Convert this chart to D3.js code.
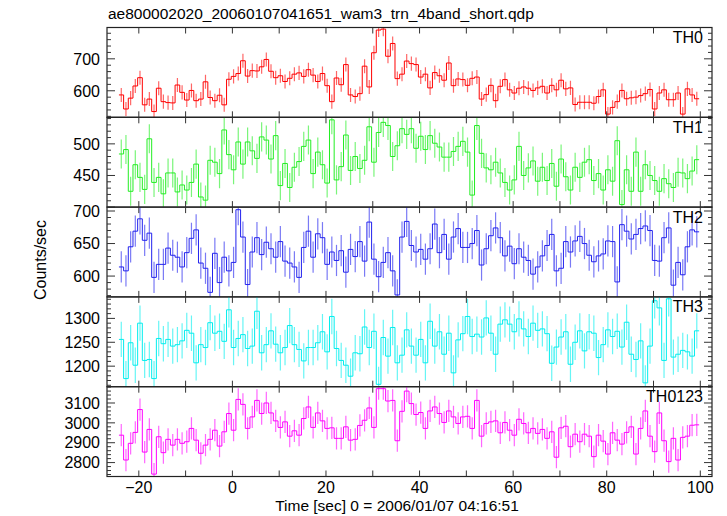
<!DOCTYPE html>
<html><head><meta charset="utf-8">
<script src="https://cdn.jsdelivr.net/npm/d3@7"></script>
<style>
body{margin:0;background:#fff;}
svg{display:block;font-family:"Liberation Sans",Arial,Helvetica,sans-serif;}
</style></head><body>
<svg id="c" width="727" height="516"></svg>
<script>
const titleText = "ae800002020_20060107041651_wam3_trn_4band_short.qdp";
const xLabel = "Time [sec] 0 = 2006/01/07 04:16:51";
const yLabel = "Counts/sec";
const binStart = -24.25, binWidth = 1.0;
const xTickLabels = [-20, 0, 20, 40, 60, 80, 100];

const th0 = [587,543,577,615,641,556,574,535,608,566,
563,562,618,595,571,601,569,574,628,579,
569,586,556,636,645,654,694,646,663,662,
675,698,661,641,647,629,639,652,656,645,
666,649,629,654,616,566,640,619,682,587,
582,591,677,612,719,790,793,708,748,638,
652,693,685,682,643,652,609,657,647,633,
687,616,637,635,617,639,643,574,588,617,
569,614,635,603,593,608,612,608,601,609,
614,593,617,603,633,606,609,557,564,564,
564,561,582,603,527,548,566,601,575,578,
580,585,591,604,543,593,603,572,572,593,
527,606,587,575];
const th1 = [484,491,425,467,447,428,508,439,447,421,
454,454,424,435,427,439,468,416,411,474,
471,453,522,483,459,503,468,503,489,477,
511,506,476,513,434,469,431,463,472,496,
506,453,487,467,438,538,443,464,514,458,
480,461,474,527,471,518,534,529,480,497,
524,515,524,493,512,491,513,501,495,479,
479,488,496,504,487,419,529,485,462,459,
471,454,439,427,443,496,450,462,473,441,
463,442,469,433,476,448,427,463,447,471,
475,442,453,427,459,441,505,404,459,425,
487,425,467,450,442,425,445,437,431,455,
454,445,457,475];
const th2 = [614,608,645,669,688,655,666,598,618,618,
643,632,629,614,636,658,671,620,612,575,
635,590,629,608,621,702,660,587,637,659,
633,652,642,629,653,623,620,614,598,644,
669,629,665,659,618,637,624,639,606,641,
630,653,623,683,626,599,621,636,608,571,
660,684,647,637,641,626,642,680,636,664,
626,660,673,644,644,650,670,617,642,662,
674,659,631,646,619,642,629,624,603,614,
631,647,664,608,612,653,637,654,661,650,
632,622,631,634,654,653,591,679,669,657,
664,673,677,670,624,623,659,674,586,621,
602,645,671,668];
const th3 = [1256,1174,1249,1202,1290,1212,1214,1174,1258,1247,
1256,1242,1245,1253,1275,1269,1207,1245,1239,1291,
1269,1273,1252,1318,1239,1258,1266,1237,1242,1315,
1228,1245,1274,1246,1228,1239,1285,1245,1235,1211,
1239,1239,1249,1272,1230,1304,1237,1212,1202,1179,
1228,1226,1282,1239,1273,1162,1260,1221,
1281,1207,1223,1276,1242,1223,1256,1207,1294,1242,
1272,1225,1269,1186,1255,1268,1304,1262,1267,1261,
1301,1269,1225,1288,1297,1288,1272,1299,1278,1262,
1290,1275,1278,1268,1206,1240,1261,1272,1204,1250,
1274,1232,1272,1269,1218,1245,1276,1262,1273,1240,
1292,1225,1214,1253,1165,1242,1337,1322,1212,1341,
1219,1225,1233,1230,1221,1274];
const th0123 = [2938,2813,2897,2952,3067,2853,2967,2742,2930,2850,
2917,2888,2917,2897,2905,2972,2913,2847,2888,2917,
2963,2883,2955,3047,2963,3118,3093,2972,3030,3113,
3047,3100,3050,3010,2977,3005,2933,2960,2938,3022,
3080,2977,3050,3010,2972,2975,2922,2922,2980,2913,
2917,2987,3013,3075,2977,3172,3172,3110,
3113,2910,3058,3160,3097,3042,3052,2972,3060,3080,
3047,3002,3060,3030,2997,3030,3033,2972,3113,2933,
2997,3005,3010,2950,3002,2963,2938,3018,2997,2950,
2972,2947,2967,2922,2955,2827,2975,2983,2880,2943,
2905,2943,2933,2830,2938,2908,2843,2950,2913,2893,
2952,2980,2843,2972,3060,2933,2855,3050,2910,2805,
2922,2813,2927,2933,2988,2990];

const panelNames = ["TH0","TH1","TH2","TH3","TH0123"];
const panelData = [th0, th1, th2, th3, th0123];
const panelErr = [22, 23, 24, 37, 56];
const panelColors = ["#ff0000","#22ee22","#2222ee","#00eeee","#ff00ff"];
const panelDomains = [[517,798],[400,542],[568,706],[1157,1345],[2730,3182]];
const panelMajor = [[600,700],[450,500],[600,650,700],[1200,1250,1300],[2800,2900,3000,3100]];
const panelMinorStep = [20,10,10,10,20];

const svg = d3.select("#c");
const left = 107, right = 712, top0 = 27.5, ph = 89.8;
const x = d3.scaleLinear().domain([-26.8, 102.5]).range([left, right]);
const xTicks = d3.range(-20, 101, 10);

svg.append("text").attr("x", 108).attr("y", 19).attr("font-size", 15.5).text(titleText);

panelData.forEach((vals, p) => {
  const yTop = top0 + p*ph, yBot = top0 + (p+1)*ph;
  const y = d3.scaleLinear().domain(panelDomains[p]).range([yBot, yTop]);
  const g = svg.append("g");
  const cid = "clip"+p;
  svg.append("clipPath").attr("id", cid).append("rect")
    .attr("x", left).attr("y", yTop).attr("width", right-left).attr("height", ph);
  const pg = g.append("g").attr("clip-path", `url(#${cid})`);
  const col = panelColors[p], err = panelErr[p];
  pg.selectAll("line.err").data(vals).enter().append("line")
    .attr("x1", (d,i) => x(binStart + (i+0.5)*binWidth))
    .attr("x2", (d,i) => x(binStart + (i+0.5)*binWidth))
    .attr("y1", d => y(d - err)).attr("y2", d => y(d + err))
    .attr("stroke", col).attr("stroke-width", 1.2).attr("stroke-opacity", 0.6);
  const pts = [];
  vals.forEach((d,i) => { pts.push([binStart + i*binWidth, d]); pts.push([binStart + (i+1)*binWidth, d]); });
  pg.append("path").datum(pts)
    .attr("d", d3.line().x(d => x(d[0])).y(d => y(d[1])))
    .attr("fill","none").attr("stroke", col).attr("stroke-width", 1);
  g.append("rect").attr("x", left).attr("y", yTop).attr("width", right-left).attr("height", ph)
    .attr("fill","none").attr("stroke","#222").attr("stroke-width",1.2);
  xTicks.forEach(t => {
    g.append("line").attr("x1", x(t)).attr("x2", x(t)).attr("y1", yBot).attr("y2", yBot-6).attr("stroke","#333").attr("stroke-width",1);
    g.append("line").attr("x1", x(t)).attr("x2", x(t)).attr("y1", yTop).attr("y2", yTop+6).attr("stroke","#333").attr("stroke-width",1);
  });
  const dom = panelDomains[p];
  const minors = d3.range(Math.ceil(dom[0]/panelMinorStep[p])*panelMinorStep[p], dom[1]+0.001, panelMinorStep[p]);
  minors.forEach(v => {
    const isMajor = (v % (panelMinorStep[p]*5)) === 0 || panelMajor[p].includes(v);
    const len = isMajor ? 8 : 4;
    g.append("line").attr("x1", left).attr("x2", left+len).attr("y1", y(v)).attr("y2", y(v)).attr("stroke","#333").attr("stroke-width",1);
    g.append("line").attr("x1", right).attr("x2", right-len).attr("y1", y(v)).attr("y2", y(v)).attr("stroke","#333").attr("stroke-width",1);
  });
  panelMajor[p].forEach(v => {
    g.append("text").attr("x", 100).attr("y", y(v)).attr("dy","0.36em").attr("text-anchor","end")
      .attr("font-size", 16).text(v);
  });
  g.append("text").attr("x", 703).attr("y", yTop+15.5).attr("text-anchor","end")
    .attr("font-size", 16).text(panelNames[p]);
});

xTickLabels.forEach(t => {
  svg.append("text").attr("x", x(t)).attr("y", 493).attr("text-anchor","middle")
    .attr("font-size", 16).text(t < 0 ? "\u2212" + Math.abs(t) : String(t));
});
svg.append("text").attr("x", 397).attr("y", 511).attr("text-anchor","middle").attr("font-size",15.5).text(xLabel);
svg.append("text").attr("transform","translate(46,260) rotate(-90)").attr("text-anchor","middle").attr("font-size",16).text(yLabel);
</script></body></html>
